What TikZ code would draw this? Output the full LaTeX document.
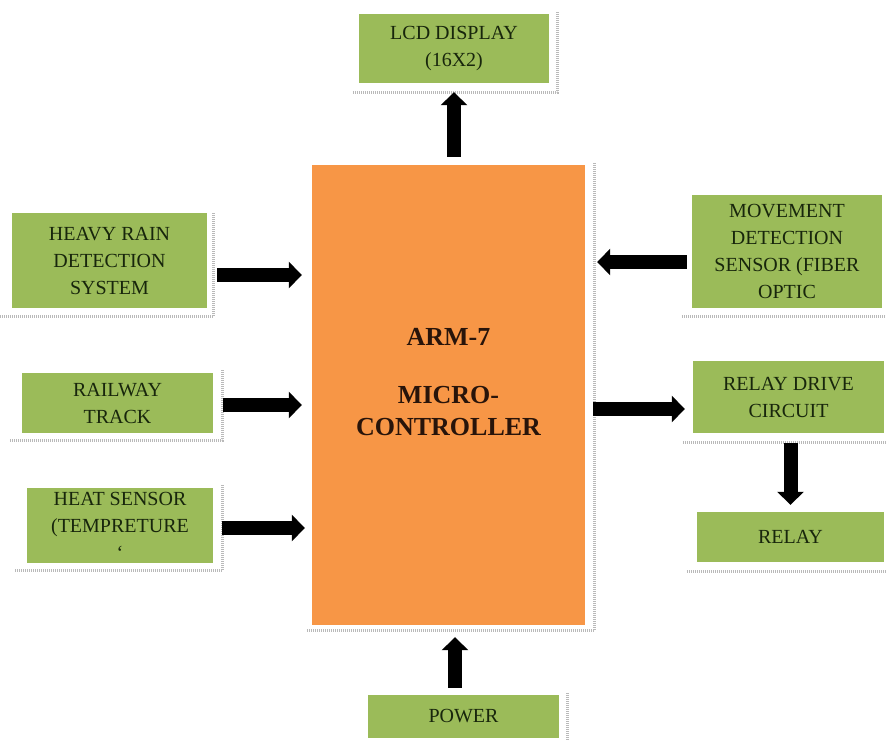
\documentclass[tikz,border=0pt]{standalone}
\usepackage{fontspec}
\setmainfont{Liberation Serif}
\usetikzlibrary{arrows.meta, positioning, calc}

\definecolor{blockgreen}{HTML}{9BBB59}
\definecolor{mcuorange}{HTML}{F79646}
\definecolor{blocktext}{RGB}{24,38,12}
\definecolor{mcutext}{RGB}{40,20,10}

\begin{document}
\begin{tikzpicture}[
x=1pt, y=-1pt,
block/.style={
rectangle,
fill=blockgreen,
inner sep=0pt,
align=center,
text=blocktext,
font=\fontsize{20}{27}\selectfont
},
mcubox/.style={
rectangle,
fill=mcuorange,
inner sep=0pt
},
dropline/.style={
draw=gray!55,
line width=3pt,
dash pattern=on 1pt off 1pt
},
link/.style={
draw=black,
line width=14pt,
-{Triangle[length=13pt, width=26pt]}
}
]
\useasboundingbox (0,0) rectangle (886,740);

% Nodes
\node[mcubox, minimum width=273pt, minimum height=460pt] (mcu) at (448.5,395) {};

\node[font=\fontsize{26}{32}\selectfont\bfseries, text=mcutext, align=center]
(mcuname) at ([yshift=13pt]mcu.center) {ARM-7\\[26pt]MICRO-\\CONTROLLER};

\node[block, minimum width=190pt, minimum height=69pt] (lcd) at (454,48.5)
{LCD DISPLAY\\(16X2)};

\node[block, minimum width=195pt, minimum height=95pt] (rain) at (109.5,260.5)
{HEAVY RAIN\\DETECTION\\SYSTEM};

\node[block, minimum width=191pt, minimum height=60pt] (rail) at (117.5,403)
{RAILWAY\\TRACK};

\node[block, minimum width=186pt, minimum height=75pt] (heat) at (120,525.5)
{HEAT SENSOR\\(TEMPRETURE\\`};

\node[block, minimum width=190pt, minimum height=113pt] (move) at (787,251.5)
{MOVEMENT\\DETECTION\\SENSOR (FIBER\\OPTIC};

\node[block, minimum width=191pt, minimum height=72pt] (drive) at (788.5,397)
{RELAY DRIVE\\CIRCUIT};

\node[block, minimum width=187pt, minimum height=50pt] (relay) at (790.5,537)
{RELAY};

\node[block, minimum width=191pt, minimum height=43pt] (power) at (463.5,716.5)
{POWER};

% Shadows
\draw[dropline] ([xshift=-6pt,yshift=-9pt]lcd.south west) -- ([xshift=8pt,yshift=-9pt]lcd.south east) -- ([xshift=8pt,yshift=2pt]lcd.north east);
\draw[dropline] ([xshift=-5pt,yshift=-5pt]mcu.south west) -- ([xshift=9pt,yshift=-5pt]mcu.south east) -- ([xshift=9pt,yshift=2pt]mcu.north east);
\draw[dropline] ([xshift=-12pt,yshift=-8pt]rain.south west) -- ([xshift=6pt,yshift=-8pt]rain.south east) -- ([xshift=6pt,yshift=0pt]rain.north east);
\draw[dropline] ([xshift=-12pt,yshift=-7pt]rail.south west) -- ([xshift=9pt,yshift=-7pt]rail.south east) -- ([xshift=9pt,yshift=3pt]rail.north east);
\draw[dropline] ([xshift=-12pt,yshift=-7pt]heat.south west) -- ([xshift=9pt,yshift=-7pt]heat.south east) -- ([xshift=9pt,yshift=3pt]heat.north east);
\draw[dropline] ([xshift=-10pt,yshift=-8pt]move.south west) -- ([xshift=8pt,yshift=-8pt]move.south east);
\draw[dropline] ([xshift=-10pt,yshift=-9pt]drive.south west) -- ([xshift=8pt,yshift=-9pt]drive.south east);
\draw[dropline] ([xshift=-10pt,yshift=-9pt]relay.south west) -- ([xshift=8pt,yshift=-9pt]relay.south east);
\draw[dropline] ([xshift=8pt,yshift=2pt]power.north east) -- ([xshift=8pt,yshift=-6pt]power.south east);

% Connections
\draw[link] ([yshift=8pt]mcu.north -| lcd.south) -- ([yshift=-9pt]lcd.south);

\draw[link] ([xshift=10pt,yshift=-14.5pt]rain.east) -- ([xshift=-10pt,yshift=-14.5pt]rain.east -| mcu.west);
\draw[link] ([xshift=10pt,yshift=-2pt]rail.east) -- ([xshift=-10pt,yshift=-2pt]rail.east -| mcu.west);
\draw[link] ([xshift=9pt,yshift=-2.5pt]heat.east) -- ([xshift=-7pt,yshift=-2.5pt]heat.east -| mcu.west);

\draw[link] ([xshift=-5pt,yshift=-10.5pt]move.west) -- ([xshift=12pt,yshift=-10.5pt]move.west -| mcu.east);

\draw[link] ([xshift=8pt,yshift=-12pt]drive.west -| mcu.east) -- ([xshift=-8pt,yshift=-12pt]drive.west);
\draw[link] ([yshift=-10pt]drive.south -| relay.north) -- ([yshift=7pt]relay.north);

\draw[link] ([xshift=-8.5pt,yshift=7pt]power.north) -- ([xshift=-8.5pt,yshift=-12pt]mcu.south -| power.north);

\end{tikzpicture}
\end{document}
